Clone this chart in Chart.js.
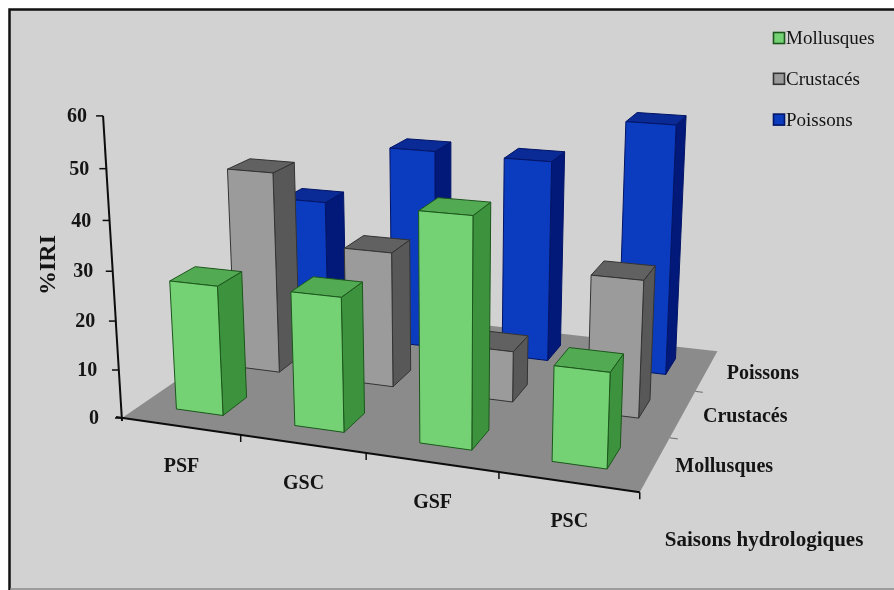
<!DOCTYPE html>
<html>
<head>
<meta charset="utf-8">
<script src="https://cdn.jsdelivr.net/npm/chart.js@4/dist/chart.umd.min.js"></script>
<style>
  html, body { margin: 0; padding: 0; background: #ffffff; }
  #wrap { width: 894px; height: 590px; }
</style>
</head>
<body>
<div id="wrap"><canvas id="c" width="894" height="590"></canvas></div>
<script>
// %IRI per hydrological season and prey group
const categories = ['PSF', 'GSC', 'GSF', 'PSC'];
const seriesNames = ['Mollusques', 'Crustacés', 'Poissons'];
const mollusques = [26.6, 27.1, 45.1, 18.6];
const crustaces = [43.2, 28.7, 10.7, 28.2];
const poissons = [30.8, 44.2, 43.9, 53.4];
const yTicks = [0, 10, 20, 30, 40, 50, 60];
const yTitle = '%IRI';
const xTitle = 'Saisons hydrologiques';

// face colours: front, side, top, edge
const palette = [
  { front: '#74d274', side: '#3d923d', top: '#52aa52', edge: '#1c561c' },
  { front: '#9b9b9b', side: '#585858', top: '#616161', edge: '#333333' },
  { front: '#0b3cbf', side: '#03197a', top: '#0a2a96', edge: '#021466' }
];

// perspective camera for the 3-D column layout
const view = {
  rotation: 19.4, elevation: 16.3, focal: 1561, cx: 447, cy: 259,
  originPx: [122, 418], originDepth: 11.85, wallHeight: 2.327,
  barHalf: 0.2, depthGap: 0.3
};

function makeProjector(v) {
  const a = v.rotation * Math.PI / 180, b = v.elevation * Math.PI / 180;
  const ex = [Math.cos(a), -Math.sin(a) * Math.sin(b), -Math.sin(a) * Math.cos(b)];
  const ez = [Math.sin(a), Math.cos(a) * Math.sin(b), Math.cos(a) * Math.cos(b)];
  const ey = [0, Math.cos(b), -Math.sin(b)];
  const d = v.originDepth;
  const O = [(v.originPx[0] - v.cx) / v.focal * d, -(v.originPx[1] - v.cy) / v.focal * d, d];
  const fn = (u, h, z) => {
    const X = O[0] + u * ex[0] + h * ey[0] + z * ez[0];
    const Y = O[1] + u * ex[1] + h * ey[1] + z * ez[1];
    const Z = O[2] + u * ex[2] + h * ey[2] + z * ez[2];
    return { x: v.cx + v.focal * X / Z, y: v.cy - v.focal * Y / Z, X, Y, Z };
  };
  fn.axes = { ex, ey, ez };
  return fn;
}
const P = makeProjector(view);

function poly(ctx, pts, fill, stroke, lw) {
  ctx.beginPath();
  ctx.moveTo(pts[0].x, pts[0].y);
  for (let i = 1; i < pts.length; i++) ctx.lineTo(pts[i].x, pts[i].y);
  ctx.closePath();
  if (fill) { ctx.fillStyle = fill; ctx.fill(); }
  if (stroke) { ctx.strokeStyle = stroke; ctx.lineWidth = lw || 1; ctx.stroke(); }
}

function faceVisible(n, p) {
  return n[0] * p.X + n[1] * p.Y + n[2] * p.Z < 0;
}

const scene3d = {
  id: 'scene3d',
  afterDraw(chart) {
    const ctx = chart.ctx;
    const xs = chart.scales.x, ys = chart.scales.y;
    const nCat = categories.length, nSer = seriesNames.length;
    const yMax = yTicks[yTicks.length - 1];
    const y0 = ys.getPixelForValue(0), yTop = ys.getPixelForValue(yMax);
    const hOf = (val) => (y0 - ys.getPixelForValue(val)) / (y0 - yTop) * view.wallHeight;
    const uOf = (i) => (xs.getPixelForValue(i) - xs.left) / xs.width * nCat;
    const H = view.wallHeight;
    const { ex } = P.axes;

    ctx.save();
    // page frame
    ctx.fillStyle = '#ffffff';
    ctx.fillRect(0, 0, 894, 590);
    ctx.fillStyle = '#d2d2d2';
    ctx.fillRect(10, 10, 884, 580);
    ctx.strokeStyle = '#111111';
    ctx.lineWidth = 2.5;
    ctx.beginPath();
    ctx.moveTo(9.5, 590); ctx.lineTo(9.5, 9.5); ctx.lineTo(894, 9.5);
    ctx.stroke();
    ctx.strokeStyle = '#8a8a8a';
    ctx.lineWidth = 1.5;
    ctx.beginPath(); ctx.moveTo(10, 589); ctx.lineTo(894, 589); ctx.stroke();

    // floor
    const A = P(0, 0, 0), B = P(nCat, 0, 0), C = P(nCat, 0, nSer), D = P(0, 0, nSer);
    const At = P(0, H, 0);
    poly(ctx, [A, B, C, D], '#8b8b8b');

    // value axis
    ctx.strokeStyle = '#0d0d0d';
    ctx.lineWidth = 2;
    ctx.beginPath(); ctx.moveTo(A.x, A.y + 3); ctx.lineTo(At.x, At.y); ctx.stroke();
    ctx.font = 'bold 20px "Liberation Serif", "Times New Roman", serif';
    ctx.fillStyle = '#141414';
    ctx.textAlign = 'right';
    ctx.textBaseline = 'middle';
    yTicks.forEach((t) => {
      const p = P(0, hOf(t), 0);
      ctx.lineWidth = 1.5;
      ctx.beginPath(); ctx.moveTo(p.x - 7, p.y); ctx.lineTo(p.x, p.y); ctx.stroke();
      const frac = t / yMax;
      ctx.fillText(String(t), p.x - 16 - 7 * (1 - frac), p.y + 1);
    });

    // category axis along the front edge
    ctx.lineWidth = 2.2;
    ctx.beginPath(); ctx.moveTo(A.x - 6, A.y - 1); ctx.lineTo(B.x, B.y); ctx.stroke();
    ctx.lineWidth = 1.5;
    for (let i = 1; i <= nCat; i++) {
      const p = P(i, 0, 0);
      ctx.beginPath(); ctx.moveTo(p.x, p.y); ctx.lineTo(p.x, p.y + 7); ctx.stroke();
    }
    // series axis ticks along the right edge
    ctx.strokeStyle = '#6a6a6a';
    ctx.lineWidth = 1;
    for (let k = 1; k < nSer; k++) {
      const p = P(nCat, 0, k), q = P(nCat + 0.06, 0, k);
      ctx.beginPath(); ctx.moveTo(p.x, p.y); ctx.lineTo(q.x, q.y); ctx.stroke();
    }

    // columns, back row first, left to right
    const rows = [mollusques, crustaces, poissons];
    for (let s = nSer - 1; s >= 0; s--) {
      const col = palette[s];
      for (let i = 0; i < nCat; i++) {
        const uc = uOf(i);
        const u0 = uc - view.barHalf, u1 = uc + view.barHalf;
        const z0 = s + view.depthGap, z1 = s + 1 - view.depthGap;
        const h = hOf(rows[s][i]);
        const f0 = P(u0, 0, z0), f1 = P(u1, 0, z0), f2 = P(u1, h, z0), f3 = P(u0, h, z0);
        const b0 = P(u0, 0, z1), b1 = P(u1, 0, z1), b2 = P(u1, h, z1), b3 = P(u0, h, z1);
        if (faceVisible([-ex[0], -ex[1], -ex[2]], f0)) poly(ctx, [f0, b0, b3, f3], col.side, col.edge, 1);
        poly(ctx, [f1, b1, b2, f2], col.side, col.edge, 1);
        poly(ctx, [f3, f2, b2, b3], col.top, col.edge, 1);
        poly(ctx, [f0, f1, f2, f3], col.front, col.edge, 1);
      }
    }

    // category labels
    ctx.fillStyle = '#141414';
    ctx.font = 'bold 20px "Liberation Serif", "Times New Roman", serif';
    ctx.textAlign = 'center';
    ctx.textBaseline = 'middle';
    categories.forEach((c, i) => {
      const p = P(uOf(i), 0, 0);
      ctx.fillText(c, p.x + 1, p.y + 40);
    });
    // series labels
    ctx.textAlign = 'left';
    seriesNames.forEach((n, s) => {
      const p = P(nCat, 0, s + 0.5);
      ctx.fillText(n, p.x + 20, p.y + 3);
    });
    // axis titles
    ctx.font = 'bold 21px "Liberation Serif", "Times New Roman", serif';
    ctx.fillText(xTitle, B.x + 25, B.y + 48);
    ctx.save();
    ctx.translate(49, 265);
    ctx.rotate(-Math.PI / 2);
    ctx.textAlign = 'center';
    ctx.font = 'bold 24px "Liberation Serif", "Times New Roman", serif';
    ctx.fillText(yTitle, 0, 0);
    ctx.restore();

    // legend
    ctx.font = '19px "Liberation Serif", "Times New Roman", serif';
    ctx.textAlign = 'left';
    ctx.textBaseline = 'middle';
    seriesNames.forEach((n, s) => {
      const cy = 38 + s * 40.8;
      ctx.fillStyle = palette[s].front;
      ctx.fillRect(773.5, cy - 5.5, 11, 11);
      ctx.strokeStyle = palette[s].edge;
      ctx.lineWidth = 1.6;
      ctx.strokeRect(773.5, cy - 5.5, 11, 11);
      ctx.fillStyle = '#141414';
      ctx.fillText(n, 786, cy + 1);
    });
    ctx.restore();
  }
};

const datasets = [mollusques, crustaces, poissons].map((vals, s) => ({
  label: seriesNames[s],
  data: vals,
  backgroundColor: 'rgba(0,0,0,0)',
  borderWidth: 0
}));

new Chart(document.getElementById('c').getContext('2d'), {
  type: 'bar',
  data: { labels: categories, datasets },
  options: {
    responsive: false,
    animation: false,
    events: [],
    plugins: { legend: { display: false }, tooltip: { enabled: false } },
    scales: {
      x: { display: false },
      y: { display: false, min: 0, max: 60 }
    }
  },
  plugins: [scene3d]
});
</script>
</body>
</html>
